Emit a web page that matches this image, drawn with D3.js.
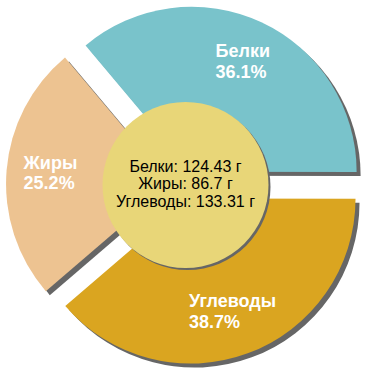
<!DOCTYPE html>
<html>
<head>
<meta charset="utf-8">
<script src="https://cdn.jsdelivr.net/npm/d3@7"></script>
<style>
  html, body { margin: 0; padding: 0; background: #ffffff; }
  svg { display: block; }
</style>
</head>
<body>
<svg id="chart" width="370" height="370"></svg>
<script>
// Data
const categories = ["Белки", "Углеводы", "Жиры"];
const grams = [124.43, 133.31, 86.7];
const colors = ["#79C3CB", "#DAA520", "#EDC391"];
const centerLines = ["Белки: 124.43 г", "Жиры: 86.7 г", "Углеводы: 133.31 г"];

const W = 370, H = 370;
const cx = 185.5, cy = 185;
const R = 165;
const explode = 14.5;
const labelR = 121;
const innerR = 83;
const font = "'Liberation Sans', Arial, sans-serif";

const svg = d3.select("#chart");
const g = svg.append("g").attr("transform", `translate(${cx},${cy})`);

const total = d3.sum(grams);
const data = categories.map((c, i) => ({ name: c, value: grams[i], color: colors[i] }));

const pie = d3.pie().sort(null).value(d => d.value)
  .startAngle(-40 * Math.PI / 180)
  .endAngle(320 * Math.PI / 180);
const arcs = pie(data);

const arc = d3.arc().innerRadius(0).outerRadius(R);

function offset(a, dist) {
  const mid = (a.startAngle + a.endAngle) / 2;
  return [Math.sin(mid) * dist, -Math.cos(mid) * dist];
}

// shadows
g.selectAll("path.shadow").data(arcs).enter().append("path")
  .attr("class", "shadow")
  .attr("d", arc)
  .attr("fill", "#666666")
  .attr("transform", d => { const o = offset(d, explode); return `translate(${o[0] + 4},${o[1] + 4})`; });

// slices
g.selectAll("path.slice").data(arcs).enter().append("path")
  .attr("class", "slice")
  .attr("d", arc)
  .attr("fill", d => d.data.color)
  .attr("transform", d => { const o = offset(d, explode); return `translate(${o[0]},${o[1]})`; });

// center circle shadow + circle
g.append("circle").attr("cx", 2).attr("cy", 2).attr("r", innerR).attr("fill", "#666666");
g.append("circle").attr("cx", 0).attr("cy", 0).attr("r", innerR).attr("fill", "#E8D678");

// center text
g.append("text")
  .attr("text-anchor", "middle")
  .attr("font-family", font)
  .attr("font-size", 16)
  .attr("fill", "#000")
  .selectAll("tspan").data(centerLines).enter().append("tspan")
  .attr("x", 0)
  .attr("y", (d, i) => -13.5 + i * 17.8)
  .text(d => d);

// slice labels
const labels = g.selectAll("g.label").data(arcs).enter().append("g").attr("class", "label");
labels.each(function(d) {
  const o = offset(d, labelR + explode);
  const t = d3.select(this).append("text")
    .attr("font-family", font)
    .attr("font-size", 18)
    .attr("font-weight", "bold")
    .attr("fill", "#ffffff");
  const pct = (d.data.value / total * 100).toFixed(1) + "%";
  const l1 = t.append("tspan").attr("x", 0).attr("y", -5).text(d.data.name);
  const l2 = t.append("tspan").attr("x", 0).attr("y", 15.5).text(pct);
  const w = Math.max(l1.node().getComputedTextLength(), l2.node().getComputedTextLength());
  t.attr("transform", `translate(${o[0] - w / 2},${o[1]})`);
});
</script>
</body>
</html>
